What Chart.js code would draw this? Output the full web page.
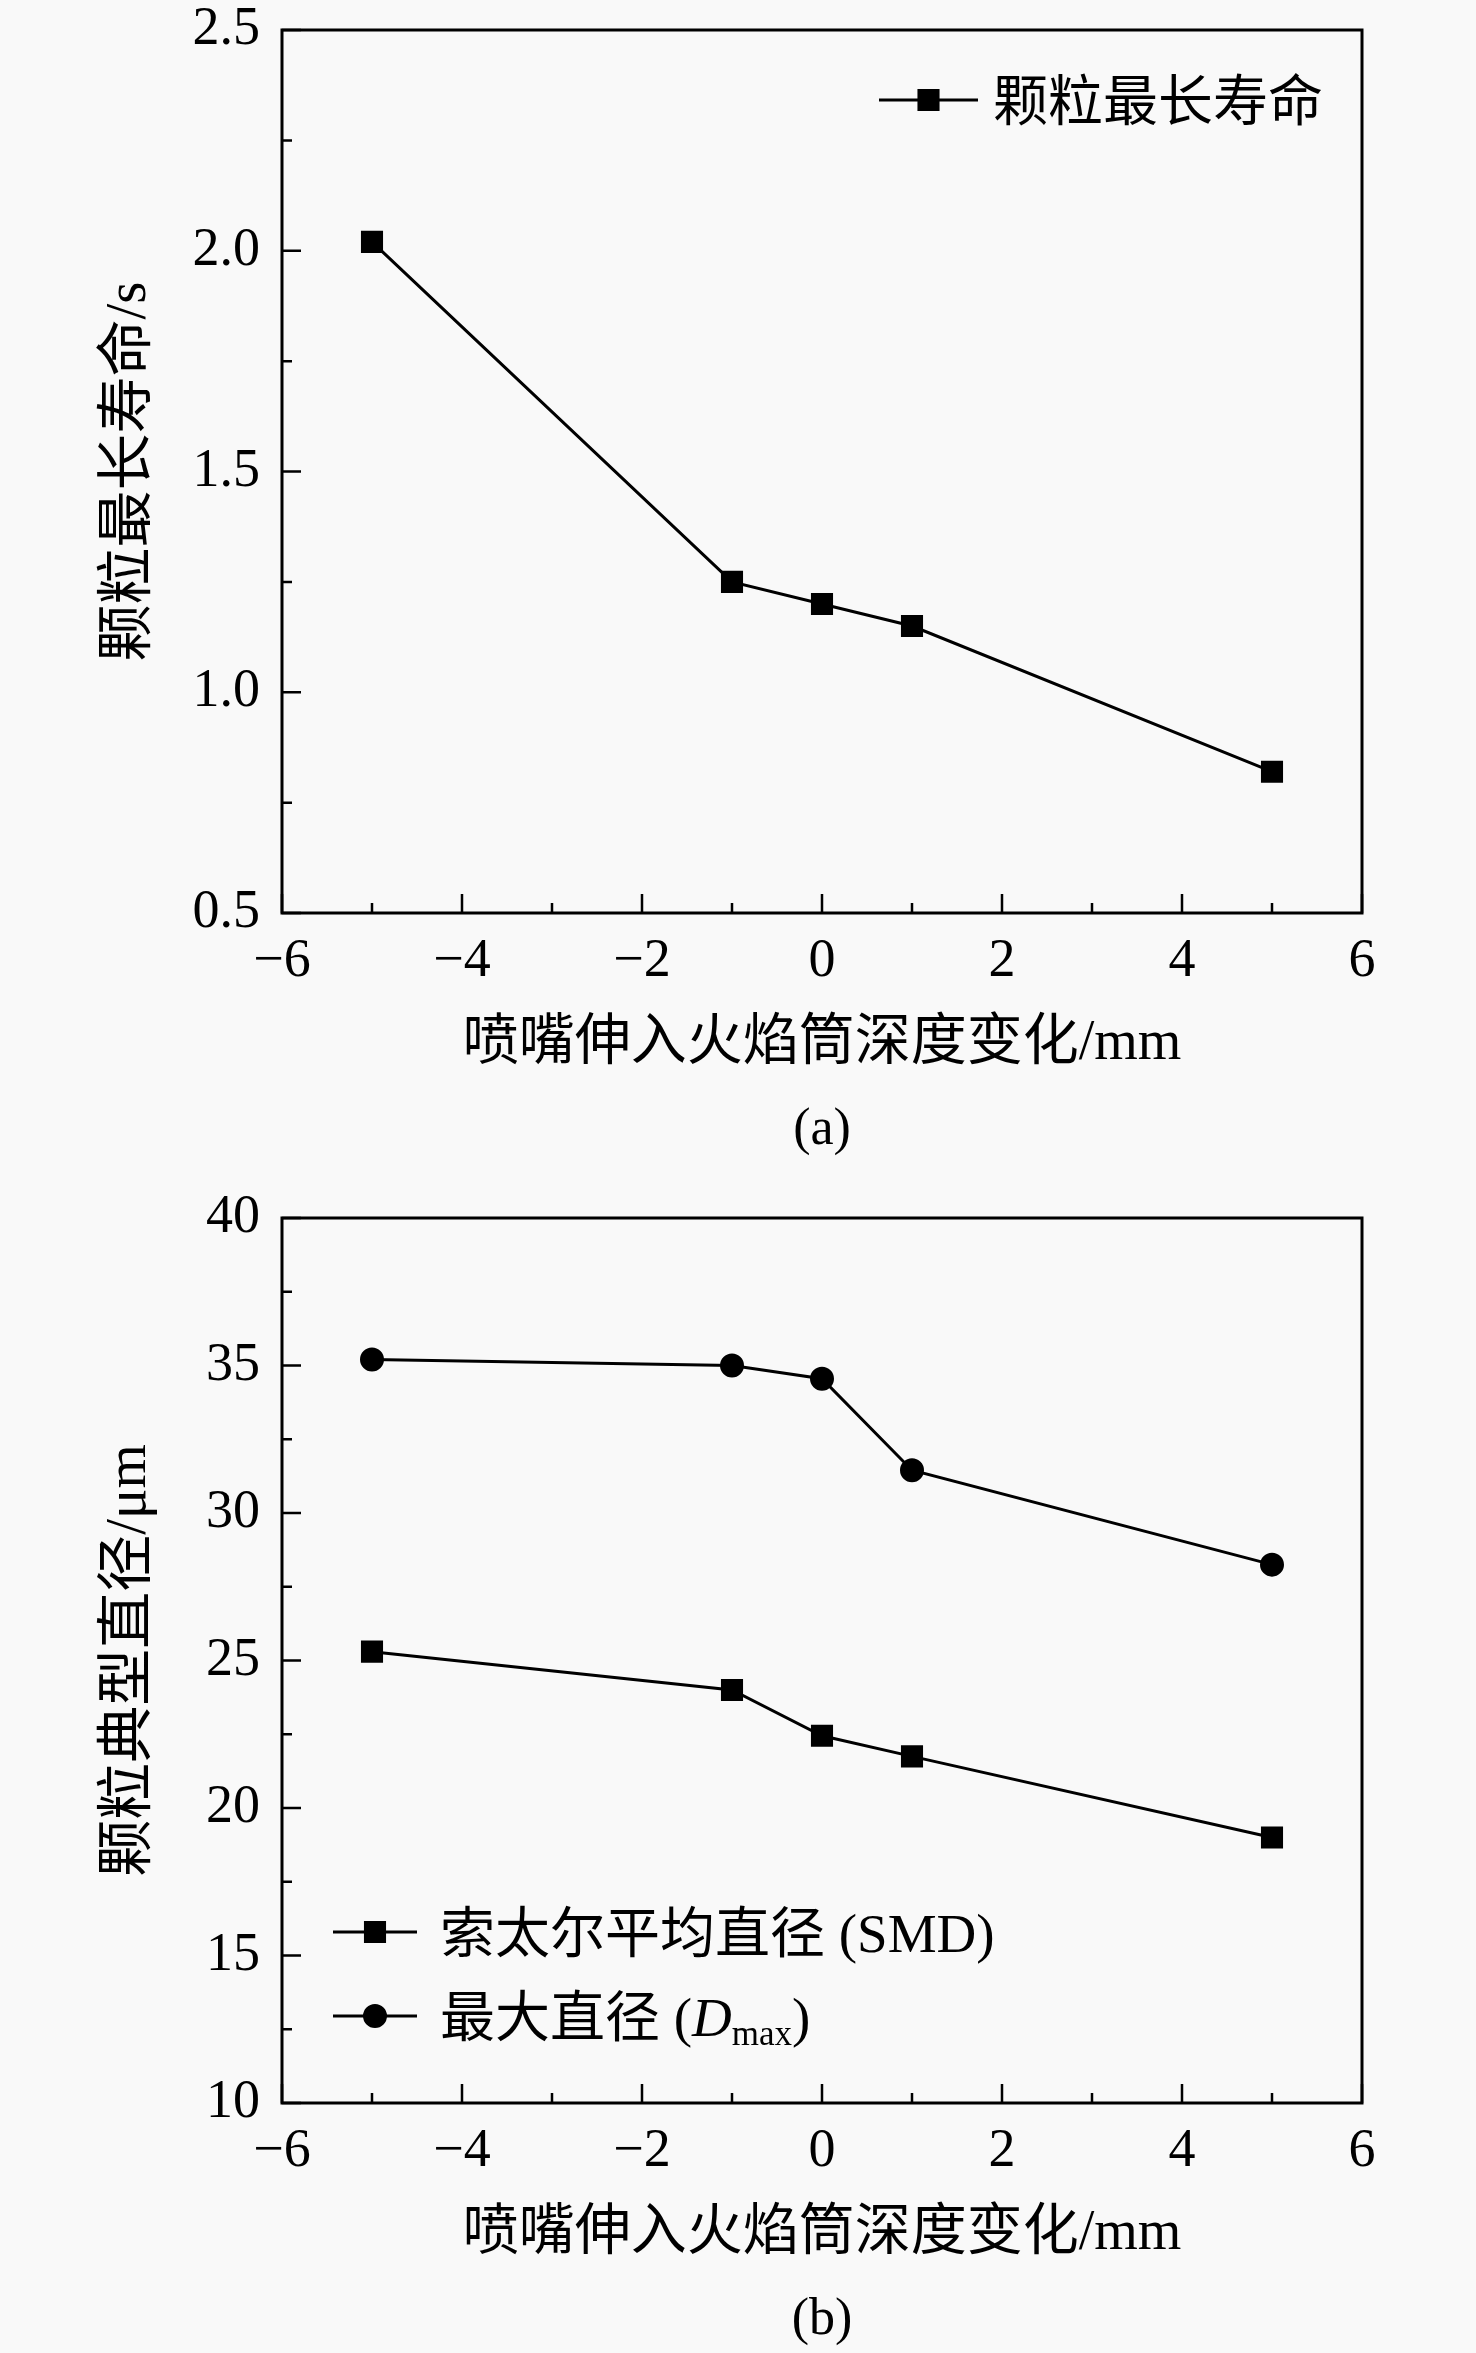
<!DOCTYPE html>
<html>
<head>
<meta charset="utf-8">
<script src="https://cdn.jsdelivr.net/npm/chart.js@4.4.1/dist/chart.umd.min.js"></script>
<style>
  html, body { margin: 0; padding: 0; background: #f9f9f9; }
  .box { position: relative; width: 1476px; }
  canvas { display: block; }
</style>
</head>
<body>
<div class="box" style="height:1176px"><canvas id="chartA" width="1476" height="1176"></canvas></div>
<div class="box" style="height:1177px"><canvas id="chartB" width="1476" height="1177"></canvas></div>
<script>
// valores
const xVals = [-5, -1, 0, 1, 5];
const vidaVals = [2.02, 1.25, 1.20, 1.15, 0.82];
const smdVals = [25.3, 24.0, 22.45, 21.75, 19.0];
const dmaxVals = [35.2, 35.0, 34.55, 31.45, 28.25];

const xTickLabels = ["\u22126", "\u22124", "\u22122", "0", "2", "4", "6"];
const vidaTickLabels = ["0.5", "1.0", "1.5", "2.0", "2.5"];
const diaTickLabels = ["10", "15", "20", "25", "30", "35", "40"];

const xTitulo = "喷嘴伸入火焰筒深度变化/mm";
const vidaTitulo = "颗粒最长寿命/s";
const diaTitulo = "颗粒典型直径/μm";

const fonte = '"Liberation Serif", "Noto Sans CJK SC", serif';
Chart.defaults.color = "#000";
Chart.defaults.font.family = fonte;

function pontos(ys) {
    return xVals.map((x, i) => ({ x: x, y: ys[i] }));
}

// moldura, ticks para dentro, títulos e legenda
const molduraPlugin = {
    id: "moldura",
    afterDraw(chart, args, opts) {
        const ctx = chart.ctx;
        const a = chart.chartArea;
        const xs = chart.scales.x;
        const ys = chart.scales.y;
        ctx.save();
        ctx.strokeStyle = "#000";
        ctx.lineWidth = 3;
        ctx.strokeRect(a.left, a.top, a.right - a.left, a.bottom - a.top);

        ctx.lineWidth = 2.5;
        ctx.beginPath();
        const xt = xs.ticks.map(t => t.value);
        xt.forEach((v, i) => {
            const px = xs.getPixelForValue(v);
            ctx.moveTo(px, a.bottom);
            ctx.lineTo(px, a.bottom - 19);
            if (i < xt.length - 1) {
                const pm = xs.getPixelForValue((v + xt[i + 1]) / 2);
                ctx.moveTo(pm, a.bottom);
                ctx.lineTo(pm, a.bottom - 10);
            }
        });
        const yt = ys.ticks.map(t => t.value);
        yt.forEach((v, i) => {
            const py = ys.getPixelForValue(v);
            ctx.moveTo(a.left, py);
            ctx.lineTo(a.left + 19, py);
            if (i < yt.length - 1) {
                const pm = ys.getPixelForValue((v + yt[i + 1]) / 2);
                ctx.moveTo(a.left, pm);
                ctx.lineTo(a.left + 10, pm);
            }
        });
        ctx.stroke();

        // títulos
        ctx.fillStyle = "#000";
        ctx.textAlign = "center";
        ctx.textBaseline = "middle";
        ctx.font = "56px " + fonte;
        const cx = (a.left + a.right) / 2;
        ctx.fillText(opts.xTitle, cx, a.bottom + 131);
        ctx.font = "52px " + fonte;
        ctx.fillText(opts.sub, cx, a.bottom + 217);
        ctx.save();
        ctx.translate(130, (a.top + a.bottom) / 2);
        ctx.rotate(-Math.PI / 2);
        ctx.font = "57px " + fonte;
        ctx.fillText(opts.yTitle, 0, 0);
        ctx.restore();

        // legenda
        const L = opts.legend;
        L.rows.forEach((r, k) => {
            const ds = chart.data.datasets[r.ds];
            const y = L.y + k * L.gap;
            ctx.strokeStyle = ds.borderColor;
            ctx.lineWidth = ds.borderWidth;
            ctx.beginPath();
            ctx.moveTo(L.x0, y);
            ctx.lineTo(L.x1, y);
            ctx.stroke();
            ctx.fillStyle = ds.pointBackgroundColor;
            Chart.helpers.drawPoint(ctx, { pointStyle: ds.pointStyle, radius: ds.pointRadius, rotation: 0, borderWidth: 1 }, (L.x0 + L.x1) / 2, y);
            ctx.fillStyle = "#000";
            ctx.textAlign = "left";
            ctx.textBaseline = "middle";
            ctx.font = "55px " + fonte;
            const ty = y + 6;
            let tx = L.tx;
            ctx.fillText(r.text, tx, ty);
            tx += ctx.measureText(r.text).width;
            if (r.italic) {
                ctx.font = "italic 55px " + fonte;
                ctx.fillText(r.italic, tx, ty);
                tx += ctx.measureText(r.italic).width;
            }
            if (r.subText) {
                ctx.font = "35px " + fonte;
                ctx.fillText(r.subText, tx, ty + 14);
                tx += ctx.measureText(r.subText).width;
            }
            if (r.tail) {
                ctx.font = "55px " + fonte;
                ctx.fillText(r.tail, tx, ty);
            }
        });
        ctx.restore();
    }
};

function serie(label, ys, estilo, raio) {
    return {
        label: label,
        data: pontos(ys),
        borderColor: "#000",
        backgroundColor: "#000",
        pointBackgroundColor: "#000",
        pointBorderColor: "#000",
        borderWidth: 3,
        pointStyle: estilo,
        pointRadius: raio,
        pointHoverRadius: raio,
        tension: 0
    };
}

function opcoes(yMin, yMax, yStep, yLabels, topo, alturaX, extra) {
    return {
        responsive: false,
        animation: false,
        layout: { padding: { left: 0, right: 114, top: topo, bottom: 0 } },
        plugins: {
            legend: { display: false },
            tooltip: { enabled: false },
            moldura: extra
        },
        scales: {
            x: {
                type: "linear",
                min: -6, max: 6,
                grid: { display: false, drawTicks: false },
                border: { display: false },
                ticks: {
                    stepSize: 2,
                    padding: 16,
                    maxRotation: 0,
                    font: { size: 54, family: fonte },
                    callback: (v, i) => xTickLabels[i]
                },
                afterFit: s => {
                    s.height = alturaX;
                    s.paddingLeft = 0;
                    s.paddingRight = 0;
                }
            },
            y: {
                min: yMin, max: yMax,
                grid: { display: false, drawTicks: false },
                border: { display: false },
                ticks: {
                    stepSize: yStep,
                    padding: 22,
                    font: { size: 54, family: fonte },
                    callback: (v, i) => yLabels[i]
                },
                afterFit: s => {
                    s.width = 282;
                    s.paddingTop = 0;
                    s.paddingBottom = 0;
                }
            }
        }
    };
}

new Chart(document.getElementById("chartA"), {
    type: "line",
    data: { datasets: [serie("颗粒最长寿命", vidaVals, "rect", 13.5)] },
    options: opcoes(0.5, 2.5, 0.5, vidaTickLabels, 30, 263, {
        xTitle: xTitulo, yTitle: vidaTitulo, sub: "(a)",
        legend: { x0: 879, x1: 978, tx: 993, y: 100, gap: 0, rows: [{ ds: 0, text: "颗粒最长寿命" }] }
    }),
    plugins: [molduraPlugin]
});

new Chart(document.getElementById("chartB"), {
    type: "line",
    data: {
        datasets: [
            serie("索太尔平均直径 (SMD)", smdVals, "rect", 13.5),
            serie("最大直径 (Dmax)", dmaxVals, "circle", 10.5)
        ]
    },
    options: opcoes(10, 40, 5, diaTickLabels, 42, 250, {
        xTitle: xTitulo, yTitle: diaTitulo, sub: "(b)",
        legend: {
            x0: 333, x1: 417, tx: 440, y: 756, gap: 84,
            rows: [
                { ds: 0, text: "索太尔平均直径 (SMD)" },
                { ds: 1, text: "最大直径 (", italic: "D", subText: "max", tail: ")" }
            ]
        }
    }),
    plugins: [molduraPlugin]
});
</script>
</body>
</html>
